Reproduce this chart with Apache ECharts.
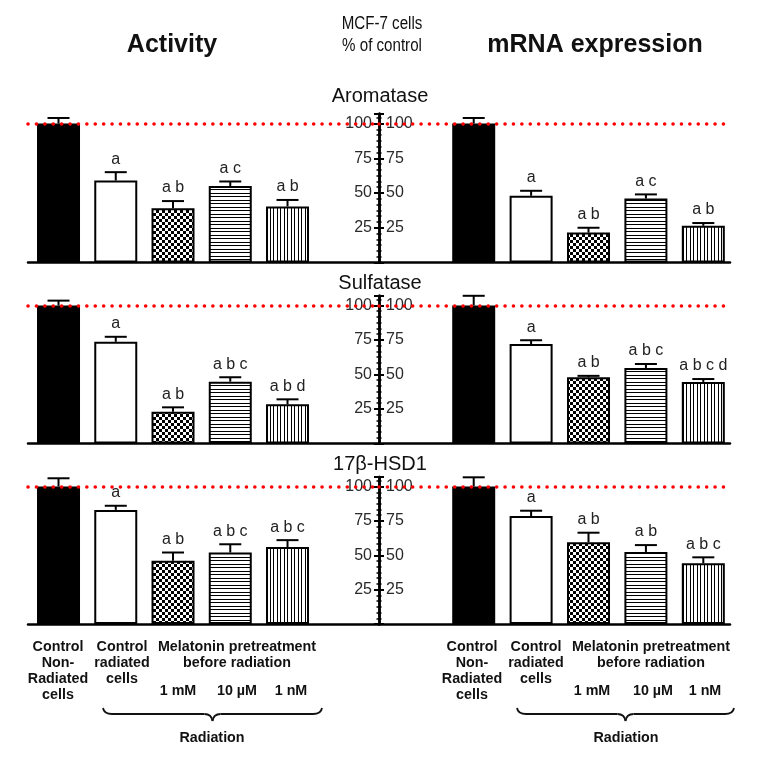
<!DOCTYPE html>
<html>
<head>
<meta charset="utf-8">
<script src="https://cdn.jsdelivr.net/npm/echarts@6/dist/echarts.min.js"></script>
<style>html,body{margin:0;padding:0;background:#fff}#c{width:760px;height:759px}</style>
</head>
<body>
<div id="c"></div>
<script>
// ---------------- data ----------------
const categories = ['Control Non-Radiated cells', 'Control radiated cells', 'Melatonin 1 mM', 'Melatonin 10 µM', 'Melatonin 1 nM'];
const panelTitles = ['Aromatase', 'Sulfatase', '17β-HSD1'];
const columnTitles = ['Activity', 'mRNA expression'];
const centerTitle = ['MCF-7 cells', '% of control'];
const yTicks = [25, 50, 75, 100];

const aromataseActivity = [100, 59, 39, 55, 40.3];
const aromataseActivityErr = [4, 6, 5.2, 3.3, 4.7];
const aromataseActivityLetters = ['', 'a', 'a b', 'a c', 'a b'];

const aromataseMRNA = [100, 48, 21.5, 46, 26.4];
const aromataseMRNAErr = [4, 3.6, 3.5, 3, 2];
const aromataseMRNALetters = ['', 'a', 'a b', 'a c', 'a b'];

const sulfataseActivity = [100, 73.7, 23, 44.8, 28.4];
const sulfataseActivityErr = [3.5, 3.6, 3.2, 3.2, 3.6];
const sulfataseActivityLetters = ['', 'a', 'a b', 'a b c', 'a b d'];

const sulfataseMRNA = [100, 72, 48, 54.7, 44.6];
const sulfataseMRNAErr = [7, 2.8, 1, 2.9, 2.1];
const sulfataseMRNALetters = ['', 'a', 'a b', 'a b c', 'a b c d'];

const hsdActivity = [100, 83, 46, 52, 56];
const hsdActivityErr = [6, 3, 6, 6, 5];
const hsdActivityLetters = ['', 'a', 'a b', 'a b c', 'a b c'];

const hsdMRNA = [100, 78.5, 59.4, 52.4, 44.1];
const hsdMRNAErr = [6.7, 3.9, 7, 5, 4.4];
const hsdMRNALetters = ['', 'a', 'a b', 'a b', 'a b c'];

const referenceLevel = 100;

const bottomLabels = ['Control\nNon-\nRadiated\ncells', 'Control\nradiated\ncells', 'Melatonin pretreatment\nbefore radiation', '1 mM', '10 µM', '1 nM', 'Radiation'];

// --------------- patterns ---------------
function makePattern(kind) {
  const c = document.createElement('canvas');
  const ctx = c.getContext('2d');
  if (kind === 'checker') {
    c.width = 6; c.height = 6;
    ctx.fillStyle = '#fff'; ctx.fillRect(0, 0, 6, 6);
    ctx.fillStyle = '#000'; ctx.fillRect(0, 0, 3, 3); ctx.fillRect(3, 3, 3, 3);
  } else if (kind === 'h') {
    c.width = 7; c.height = 7;
    ctx.fillStyle = '#fff'; ctx.fillRect(0, 0, 7, 7);
    ctx.fillStyle = '#000'; ctx.fillRect(0, 0, 7, 1); ctx.fillRect(0, 4, 7, 1);
  } else {
    c.width = 7; c.height = 7;
    ctx.fillStyle = '#fff'; ctx.fillRect(0, 0, 7, 7);
    ctx.fillStyle = '#000'; ctx.fillRect(0, 0, 1, 7); ctx.fillRect(4, 0, 1, 7);
  }
  return { image: c, repeat: 'repeat' };
}
const fills = ['#000', '#fff', makePattern('checker'), makePattern('h'), makePattern('v')];

// --------------- layout ---------------
const panels = [
  [aromataseActivity, aromataseActivityErr, aromataseActivityLetters, aromataseMRNA, aromataseMRNAErr, aromataseMRNALetters],
  [sulfataseActivity, sulfataseActivityErr, sulfataseActivityLetters, sulfataseMRNA, sulfataseMRNAErr, sulfataseMRNALetters],
  [hsdActivity, hsdActivityErr, hsdActivityLetters, hsdMRNA, hsdMRNAErr, hsdMRNALetters]
];
const rowGeom = [ {top: 113.8, height: 148.7}, {top: 295.8, height: 147.7}, {top: 476.9, height: 147.1} ];
const YMAX = 107;
const FONT = '"Liberation Sans", Arial, sans-serif';

const grids = [], xAxes = [], yAxes = [], series = [];
rowGeom.forEach((g, r) => {
  for (let side = 0; side < 2; side++) {
    const idx = r * 2 + side;
    grids.push({ left: side === 0 ? 28 : 379, width: 351, top: g.top, height: g.height });
    xAxes.push({
      type: 'value', gridIndex: idx,
      min: side === 0 ? -0.533 : -1.65, max: side === 0 ? 5.598 : 4.465,
      axisLine: { show: true, onZero: false, lineStyle: { color: '#000', width: 2.5 } },
      axisTick: { show: false }, axisLabel: { show: false }, splitLine: { show: false }
    });
    yAxes.push({
      type: 'value', gridIndex: idx, position: side === 0 ? 'right' : 'left',
      min: 0, max: YMAX, interval: 25,
      axisLine: { show: true, onZero: false, lineStyle: { color: '#000', width: 2.5 } },
      axisTick: { show: true, inside: true, length: 5, lineStyle: { color: '#000', width: 2 } },
      minorTick: { show: true, splitNumber: 6, length: 2.5, lineStyle: { color: '#000', width: 1.5 } },
      axisLabel: {
        inside: true, margin: 7, fontSize: 16, color: '#2a2a2a', fontFamily: FONT,
        formatter: v => (yTicks.indexOf(v) >= 0 ? String(v) : '')
      },
      splitLine: { show: false }
    });
    const vals = panels[r][side * 3], errs = panels[r][side * 3 + 1], letters = panels[r][side * 3 + 2];
    series.push({
      type: 'bar', xAxisIndex: idx, yAxisIndex: idx, barWidth: 43,
      data: vals.map((v, i) => ({ value: [i, v], itemStyle: { color: fills[i] } })),
      itemStyle: { borderColor: '#000', borderWidth: 2 },
      emphasis: { disabled: true },
      markLine: {
        silent: true, symbol: 'none', label: { show: false },
        lineStyle: { color: '#ff0000', type: [0.1, 8.3], cap: 'round', width: 3.5 },
        data: [{ yAxis: referenceLevel }]
      },
      z: 2
    });
    series.push({
      type: 'custom', xAxisIndex: idx, yAxisIndex: idx, z: 3,
      data: vals.map((v, i) => [i, v, errs[i]]),
      encode: { x: 0, y: 1 },
      renderItem: (params, api) => {
        const x = api.value(0), v = api.value(1), e = api.value(2);
        const p0 = api.coord([x, v]), p1 = api.coord([x, v + e]);
        const lab = letters[params.dataIndex];
        return {
          type: 'group', children: [
            { type: 'line', shape: { x1: p0[0], y1: p0[1], x2: p1[0], y2: p1[1] }, style: { stroke: '#000', lineWidth: 2 } },
            { type: 'line', shape: { x1: p1[0] - 11, y1: p1[1], x2: p1[0] + 11, y2: p1[1] }, style: { stroke: '#000', lineWidth: 2 } },
            { type: 'text', x: p1[0], y: p1[1] - 5, style: { text: lab, fill: '#222', font: '16px ' + FONT, align: 'center', verticalAlign: 'bottom', textAlign: 'center', textVerticalAlign: 'bottom' } }
          ]
        };
      }
    });
  }
});

// --------------- annotations ---------------
function txt(t, x, y, font, sx) {
  const o = { type: 'text', x: x, y: y, silent: true,
    style: { text: t, font: font, fill: '#111', align: 'center', verticalAlign: 'middle', textAlign: 'center', textVerticalAlign: 'middle', lineHeight: 16 } };
  if (sx) { o.scaleX = sx; }
  return o;
}
function braceParts(x1, x2, y) {
  const m = (x1 + x2) / 2;
  const st = { stroke: '#111', lineWidth: 1.8, fill: null };
  return [
    { type: 'bezierCurve', silent: true, shape: { x1: x1, y1: y - 6, cpx1: x1 + 1, cpy1: y, x2: x1 + 9, y2: y }, style: st },
    { type: 'line', silent: true, shape: { x1: x1 + 9, y1: y, x2: m - 8, y2: y }, style: st },
    { type: 'bezierCurve', silent: true, shape: { x1: m - 8, y1: y, cpx1: m - 1, cpy1: y, x2: m, y2: y + 7 }, style: st },
    { type: 'bezierCurve', silent: true, shape: { x1: m, y1: y + 7, cpx1: m + 1, cpy1: y, x2: m + 8, y2: y }, style: st },
    { type: 'line', silent: true, shape: { x1: m + 8, y1: y, x2: x2 - 9, y2: y }, style: st },
    { type: 'bezierCurve', silent: true, shape: { x1: x2 - 9, y1: y, cpx1: x2 - 1, cpy1: y, x2: x2, y2: y - 6 }, style: st }
  ];
}
const graphics = [
  txt(columnTitles[0], 172, 45, 'bold 25px ' + FONT),
  txt(columnTitles[1], 595, 45, 'bold 25px ' + FONT),
  txt(centerTitle[0], 382, 24, '18px ' + FONT, 0.84),
  txt(centerTitle[1], 382, 46, '18px ' + FONT, 0.84),
  txt(panelTitles[0], 380, 96, '20px ' + FONT),
  txt(panelTitles[1], 380, 283, '20px ' + FONT),
  txt(panelTitles[2], 380, 464, '20px ' + FONT)
];
const bfont = 'bold 14.3px ' + FONT;
[[58, 122, 237, 178, 237, 291, 212, 103, 322], [472, 536, 651, 592, 653, 705, 626, 517, 734]].forEach(p => {
  [0, 1, 2].forEach(k => {
    const g = txt(bottomLabels[k], p[k], 639, bfont);
    g.style.verticalAlign = 'top'; g.style.textVerticalAlign = 'top';
    graphics.push(g);
  });
  graphics.push(txt(bottomLabels[3], p[3], 691, bfont));
  graphics.push(txt(bottomLabels[4], p[4], 691, bfont));
  graphics.push(txt(bottomLabels[5], p[5], 691, bfont));
  graphics.push(txt(bottomLabels[6], p[6], 738, bfont));
  braceParts(p[7], p[8], 714).forEach(b => graphics.push(b));
});

const chart = echarts.init(document.getElementById('c'), null, { renderer: 'canvas' });
chart.setOption({
  animation: false,
  backgroundColor: '#fff',
  grid: grids, xAxis: xAxes, yAxis: yAxes, series: series,
  graphic: graphics
});
</script>
</body>
</html>
